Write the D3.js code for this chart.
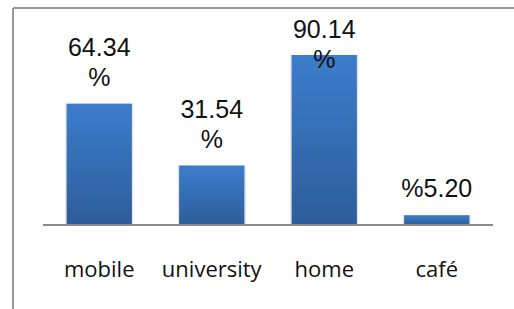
<!DOCTYPE html>
<html>
<head>
<meta charset="utf-8">
<script src="https://cdn.jsdelivr.net/npm/d3@7"></script>
<style>
  body { margin: 0; background: #fff; }
  svg { display: block; }
</style>
</head>
<body>
<div id="chart"></div>
<script>
// values
const categories = ["mobile", "university", "home", "café"];
const values = [64.34, 31.54, 90.14, 5.20];
const valueLabels = [["64.34", "%"], ["31.54", "%"], ["90.14", "%"], ["%5.20"]];

const width = 514, height = 309;
const margin = {top: 18, left: 43, right: 21, bottom: 84};

const svg = d3.select("#chart").append("svg")
    .attr("width", width)
    .attr("height", height);

// bar gradient
const defs = svg.append("defs");
const grad = defs.append("linearGradient")
    .attr("id", "barGrad")
    .attr("x1", 0).attr("y1", 0).attr("x2", 0).attr("y2", 1);
grad.append("stop").attr("offset", "0%").attr("stop-color", "#3c7dcc");
grad.append("stop").attr("offset", "100%").attr("stop-color", "#2d5d9b");

// frame (only top and left visible)
svg.append("line")
    .attr("x1", 13).attr("x2", width).attr("y1", 8).attr("y2", 8)
    .style("stroke", "#999").style("stroke-width", 2);
svg.append("line")
    .attr("x1", 13).attr("x2", 13).attr("y1", 8).attr("y2", height)
    .style("stroke", "#999").style("stroke-width", 2);

const x = d3.scaleBand()
    .domain(categories)
    .range([margin.left, width - margin.right])
    .paddingInner(0.42)
    .paddingOuter(0.21);

const baseY = 225;
const y = d3.scaleLinear()
    .domain([0, 100])
    .range([baseY, baseY - 188.6]);

// bars with a faint shadow
const g = svg.append("g").attr("class", "bars");
g.selectAll("rect.shadow")
    .data(values)
  .enter().append("rect")
    .attr("class", "shadow")
    .attr("x", (d, i) => x(categories[i]) - 1.5)
    .attr("y", d => y(d))
    .attr("width", x.bandwidth() + 3)
    .attr("height", d => baseY - y(d))
    .style("fill", "#e4e4e4");
g.selectAll("rect.bar")
    .data(values)
  .enter().append("rect")
    .attr("class", "bar")
    .attr("x", (d, i) => x(categories[i]))
    .attr("y", d => y(d))
    .attr("width", x.bandwidth())
    .attr("height", d => baseY - y(d))
    .style("fill", "url(#barGrad)");

// axis line
const xAxis = svg.append("g")
    .attr("transform", "translate(0," + baseY + ")")
    .call(d3.axisBottom(x).tickSize(0).tickPadding(36));
xAxis.select(".domain")
    .attr("d", "M" + margin.left + ",0H" + (width - margin.right))
    .style("stroke", "#8c8c8c").style("stroke-width", 2);
xAxis.selectAll(".tick text")
    .style("font-family", "'Open Sans', sans-serif")
    .style("font-size", "22px")
    .style("fill", "#111");

// value labels
const lineGap = 30;
const labels = svg.append("g").attr("class", "labels")
    .style("font-family", "'Liberation Sans', Arial, sans-serif")
    .style("font-size", "25px")
    .style("fill", "#111")
    .attr("text-anchor", "middle");

labels.selectAll("text")
    .data(values)
  .enter().append("text")
    .attr("x", (d, i) => x(categories[i]) + x.bandwidth() / 2)
    .each(function(d, i) {
      const lines = valueLabels[i];
      let first = y(d) - 18 - (lines.length - 1) * lineGap;
      first = Math.max(first, 38);
      const t = d3.select(this);
      lines.forEach((s, k) => {
        t.append("tspan")
          .attr("x", x(categories[i]) + x.bandwidth() / 2)
          .attr("y", first + k * lineGap)
          .text(s);
      });
    });
</script>
</body>
</html>
